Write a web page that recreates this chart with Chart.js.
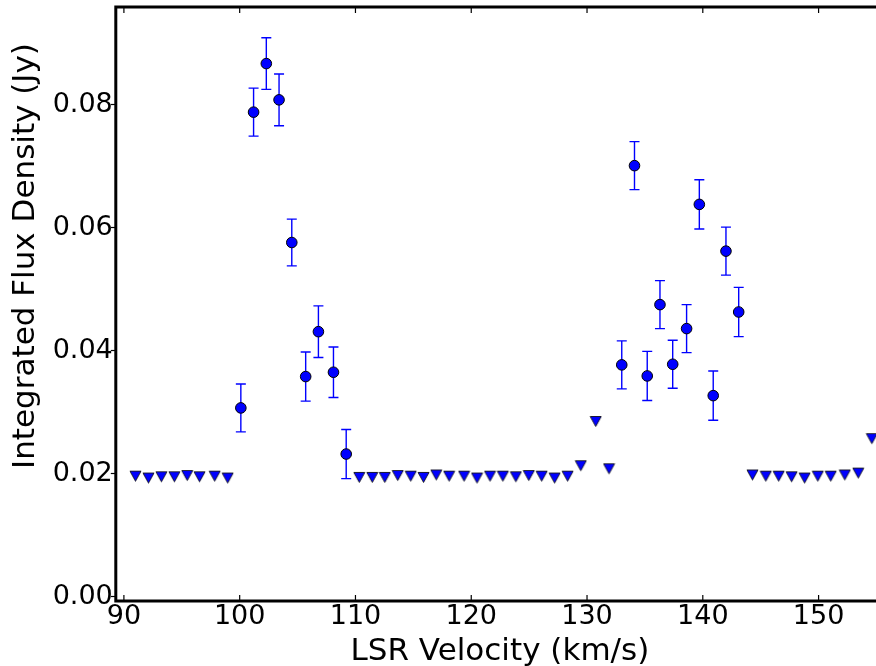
<!DOCTYPE html>
<html>
<head>
<meta charset="utf-8">
<script src="https://cdn.jsdelivr.net/npm/chart.js@4.4.1/dist/chart.umd.min.js"></script>
<style>
    html, body { margin: 0; padding: 0; background: #fff; overflow: hidden; }
    #contenedor { width: 891px; height: 666px; }
</style>
</head>
<body>
<div id="contenedor"><canvas id="grafica" width="891" height="666"></canvas></div>
<script>
// detecciones (circulos con barras de error)
const velDeteccion = [100.1, 101.2, 102.3, 103.4, 104.5, 105.7, 106.8, 108.1, 109.2,
                      133.0, 134.1, 135.2, 136.3, 137.4, 138.6, 139.7, 140.9, 142.0, 143.1];
const flujoDeteccion = [0.0307, 0.0788, 0.0867, 0.0808, 0.0576, 0.0358, 0.0431, 0.0365, 0.0232,
                        0.0377, 0.0701, 0.0359, 0.0475, 0.0378, 0.0436, 0.0638, 0.0327, 0.0562, 0.0463];
const errorDeteccion = [0.0039, 0.0039, 0.0042, 0.0042, 0.0038, 0.0040, 0.0042, 0.0041, 0.0040,
                        0.0039, 0.0039, 0.0040, 0.0039, 0.0039, 0.0039, 0.0040, 0.0040, 0.0039, 0.0040];

// limites superiores (triangulos)
const velLimite = [91.0, 92.12, 93.24, 94.36, 95.47, 96.53, 97.84, 98.96,
                   110.33, 111.45, 112.53, 113.65, 114.77, 115.88, 116.98, 118.09, 119.38, 120.5,
                   121.62, 122.73, 123.85, 124.97, 126.08, 127.2, 128.32, 129.46, 130.75, 131.9,
                   144.29, 145.44, 146.55, 147.67, 148.79, 149.93, 151.05, 152.26, 153.43, 154.6];
const flujoLimite = [0.0196, 0.0193, 0.0195, 0.0195, 0.0197, 0.0195, 0.0196, 0.0193,
                     0.0194, 0.0194, 0.0194, 0.0197, 0.0196, 0.0194, 0.0198, 0.0196, 0.0196, 0.0193,
                     0.0196, 0.0196, 0.0195, 0.0197, 0.0196, 0.0193, 0.0196, 0.0213, 0.0285, 0.0208,
                     0.0198, 0.0196, 0.0196, 0.0195, 0.0193, 0.0196, 0.0196, 0.0198, 0.0201, 0.0257];

const ticksX = [90, 100, 110, 120, 130, 140, 150];
const ticksY = [0.00, 0.02, 0.04, 0.06, 0.08];

const fuente = '"DejaVu Sans", sans-serif';

function crearTriangulo() {
    const c = document.createElement('canvas');
    c.width = 13;
    c.height = 13;
    const g = c.getContext('2d');
    g.beginPath();
    g.moveTo(1, 1.5);
    g.lineTo(12, 1.5);
    g.lineTo(6.5, 11.5);
    g.closePath();
    g.fillStyle = '#0000ff';
    g.fill();
    g.strokeStyle = '#000';
    g.lineWidth = 0.8;
    g.stroke();
    return c;
}

const barrasError = {
    id: 'barrasError',
    beforeDatasetsDraw(chart) {
        const ctx = chart.ctx;
        const escalaY = chart.scales.y;
        chart.data.datasets.forEach((ds, i) => {
            if (!ds.errores) return;
            const meta = chart.getDatasetMeta(i);
            ctx.save();
            ctx.strokeStyle = '#0000ff';
            ctx.lineWidth = 1.4;
            meta.data.forEach((p, j) => {
                const v = ds.data[j].y;
                const e = ds.errores[j];
                const y1 = escalaY.getPixelForValue(v + e);
                const y2 = escalaY.getPixelForValue(v - e);
                ctx.beginPath();
                ctx.moveTo(p.x, y1);
                ctx.lineTo(p.x, y2);
                ctx.moveTo(p.x - 5, y1);
                ctx.lineTo(p.x + 5, y1);
                ctx.moveTo(p.x - 5, y2);
                ctx.lineTo(p.x + 5, y2);
                ctx.stroke();
            });
            ctx.restore();
        });
    }
};

const marco = {
    id: 'marco',
    afterDatasetsDraw(chart) {
        const ctx = chart.ctx;
        const a = chart.chartArea;
        const escalaX = chart.scales.x;
        ctx.save();
        ctx.strokeStyle = '#000';
        ctx.lineWidth = 1.2;
        ctx.beginPath();
        ticksX.forEach(v => {
            const px = escalaX.getPixelForValue(v);
            ctx.moveTo(px, a.bottom);
            ctx.lineTo(px, a.bottom - 6);
            ctx.moveTo(px, a.top);
            ctx.lineTo(px, a.top + 6);
        });
        ctx.stroke();

        ctx.lineWidth = 3;
        ctx.strokeRect(a.left, a.top, a.right - a.left, a.bottom - a.top);

        // titulo del eje y
        ctx.translate(26, 256);
        ctx.rotate(-Math.PI / 2);
        ctx.fillStyle = '#000';
        ctx.font = '31px ' + fuente;
        ctx.textAlign = 'center';
        ctx.textBaseline = 'middle';
        ctx.fillText('Integrated Flux Density (Jy)', 0, 0);
        ctx.restore();
    }
};

const puntosDeteccion = velDeteccion.map((v, i) => ({ x: v, y: flujoDeteccion[i] }));
const puntosLimite = velLimite.map((v, i) => ({ x: v, y: flujoLimite[i] }));

new Chart(document.getElementById('grafica'), {
    type: 'scatter',
    data: {
        datasets: [
            {
                label: 'Limites',
                data: puntosLimite,
                pointStyle: crearTriangulo(),
                pointRadius: 6
            },
            {
                label: 'Detecciones',
                data: puntosDeteccion,
                errores: errorDeteccion,
                pointStyle: 'circle',
                pointRadius: 5.3,
                pointBorderWidth: 1,
                pointBorderColor: '#000',
                pointBackgroundColor: '#0000ff'
            }
        ]
    },
    options: {
        responsive: false,
        animation: false,
        layout: { padding: { top: 5.3, right: 3, left: 0, bottom: 0 } },
        plugins: {
            legend: { display: false },
            tooltip: { enabled: false }
        },
        scales: {
            x: {
                type: 'linear',
                min: 89.3,
                max: 155.65,
                afterBuildTicks: s => { s.ticks = ticksX.map(v => ({ value: v })); },
                afterFit: s => { s.height = 65; s.paddingLeft = 0; s.paddingRight = 0; },
                grid: { display: false, drawTicks: false },
                border: { display: false },
                ticks: {
                    color: '#000',
                    padding: 0,
                    font: { family: fuente, size: 27 },
                    callback: v => String(v)
                },
                title: {
                    display: true,
                    text: 'LSR Velocity (km/s)',
                    color: '#000',
                    padding: 0,
                    font: { family: fuente, size: 31, lineHeight: 0.92 }
                }
            },
            y: {
                type: 'linear',
                min: -0.0007,
                max: 0.0959,
                afterBuildTicks: s => { s.ticks = ticksY.map(v => ({ value: v })); },
                afterFit: s => { s.width = 115.8; s.paddingTop = 0; s.paddingBottom = 0; },
                grid: { drawOnChartArea: false, drawTicks: true, tickLength: 5, tickColor: '#000', tickWidth: 1.2 },
                border: { display: false },
                ticks: {
                    color: '#000',
                    padding: -2,
                    font: { family: fuente, size: 27 },
                    callback: v => v.toFixed(2)
                }
            }
        }
    },
    plugins: [barrasError, marco]
});
</script>
</body>
</html>
